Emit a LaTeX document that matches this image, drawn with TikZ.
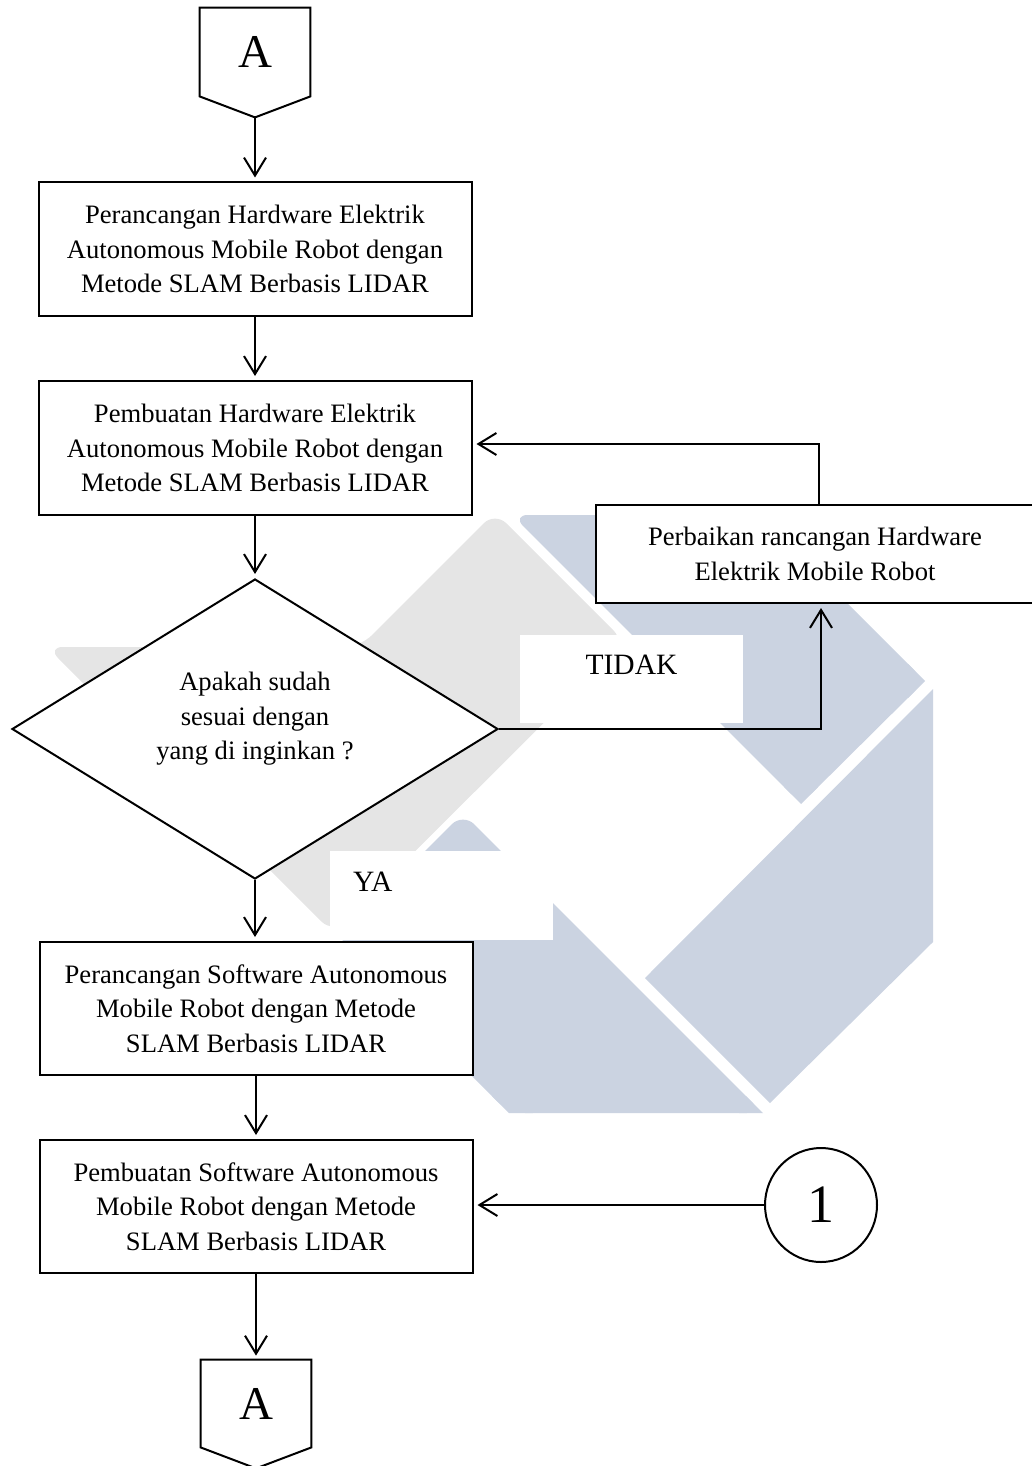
\documentclass[tikz,border=0pt]{standalone}
\usepackage{fontspec}
\setmainfont{Liberation Serif}
\usetikzlibrary{shapes.geometric,arrows.meta,calc}
\definecolor{logogray}{RGB}{229,229,229}
\definecolor{logoblue}{RGB}{203,211,225}
\begin{document}
\begin{tikzpicture}[x=0.5pt,y=-0.5pt,
  every node/.style={inner sep=0pt},
  proc/.style={draw, fill=white, line width=1pt, align=center,
    minimum width=216.5pt, minimum height=66.5pt,
    font=\fontsize{13.3pt}{17.25pt}\selectfont},
  decision/.style={diamond, draw, fill=white, line width=1pt, align=center,
    shape aspect=1.62, minimum width=243pt, minimum height=150pt,
    text depth=13pt, font=\fontsize{13.3pt}{17.25pt}\selectfont},
  offpage/.style={minimum width=55pt, minimum height=44pt,
    font=\fontsize{23.5pt}{28pt}\selectfont},
  answer/.style={fill=white, minimum height=44pt, text height=10pt,
    font=\fontsize{14.75pt}{17pt}\selectfont},
  connector/.style={ellipse, draw, line width=1pt, minimum width=56pt,
    minimum height=57pt, font=\fontsize{27pt}{32pt}\selectfont},
  arr/.style={line width=1pt, -{Straight Barb[length=9pt,width=11pt]}, shorten >=2pt},
  outline/.style={line width=1pt, line join=miter}
]
\useasboundingbox (0,0) rectangle (1032,1466);

% faint logo in the background
\fill[logogray, rounded corners=8pt] (47,647) -- (360,647) -- (495,512) -- (625,642) -- (333,933) -- cycle;
\fill[logoblue, rounded corners=8pt] (512,515) -- (759,515) -- (925,681) -- (801,804) -- cycle;
\fill[logoblue] (925,681) -- (908,664) -- (908,698) -- cycle;
\fill[logoblue] (801,804) -- (818,787) -- (784,787) -- cycle;
\fill[logoblue, rounded corners=8pt] (463,813) -- (763,1113) -- (509,1113) -- (336,940) -- cycle;
\fill[logoblue] (763,1113) -- (746,1096) -- (739,1113) -- cycle;
\fill[logoblue] (509,1113) -- (533,1113) -- (492,1096) -- cycle;
\fill[logoblue] (645,978) -- (770,1103) -- (933,942) -- (933,689) -- cycle;

% branch labels on white panels
\node[answer, minimum width=111.5pt, text depth=14.2pt] (no) at (631.5,679) {TIDAK};
\node[answer, text width=88.5pt, inner xsep=11.5pt, align=left,
  text depth=13.7pt, minimum height=44.5pt] (yes) at (441.5,895.5) {YA};

% off-page connector at the top
\node[offpage] (A1) at (255,52) {A};
\coordinate (A1tip) at ($(A1.south)+(0,21)$);
\draw[outline] (A1.south west) -- (A1.north west) -- (A1.north east) -- (A1.south east) -- (A1tip) -- cycle;

% process steps
\node[proc] (hw1) at (255,249) {Perancangan Hardware Elektrik\\Autonomous Mobile Robot dengan\\Metode SLAM Berbasis LIDAR};
\node[proc, minimum height=67pt] (hw2) at (255,448) {Pembuatan Hardware Elektrik\\Autonomous Mobile Robot dengan\\Metode SLAM Berbasis LIDAR};
\node[decision] (chk) at (255,729) {Apakah sudah\\sesuai dengan\\yang di inginkan ?};
\node[proc, minimum width=219pt, minimum height=49pt] (fix) at (815,554) {Perbaikan rancangan Hardware\\Elektrik Mobile Robot};
\node[proc] (sw1) at (256,1008.5) {Perancangan Software Autonomous\\Mobile Robot dengan Metode\\SLAM Berbasis LIDAR};
\node[proc] (sw2) at (256,1206.5) {Pembuatan Software Autonomous\\Mobile Robot dengan Metode\\SLAM Berbasis LIDAR};
\node[connector] (one) at (821,1205) {1};

% off-page connector at the bottom
\node[offpage, minimum height=43.5pt] (A2) at (256,1403.5) {A};
\coordinate (A2tip) at ($(A2.south)+(0,21)$);
\draw[outline] (A2.south west) -- (A2.north west) -- (A2.north east) -- (A2.south east) -- (A2tip) -- cycle;

% flow
\draw[arr] (A1tip) -- (hw1.north);
\draw[arr] (hw1.south) -- (hw2.north);
\draw[arr] (hw2.south) -- (chk.north);
\coordinate (tturn) at (821,729);
\draw[arr] (chk.east) -- (tturn) -- (tturn |- fix.south);
\coordinate (lturn) at (819,444);
\draw[arr] (lturn |- fix.north) -- (lturn) -- (lturn -| hw2.east);
\draw[arr] (chk.south) -- (chk.south |- sw1.north);
\draw[arr] (sw1.south) -- (sw2.north);
\draw[arr] (one.west) -- (one.west -| sw2.east);
\draw[arr] (sw2.south) -- (A2.north);
\end{tikzpicture}
\end{document}
